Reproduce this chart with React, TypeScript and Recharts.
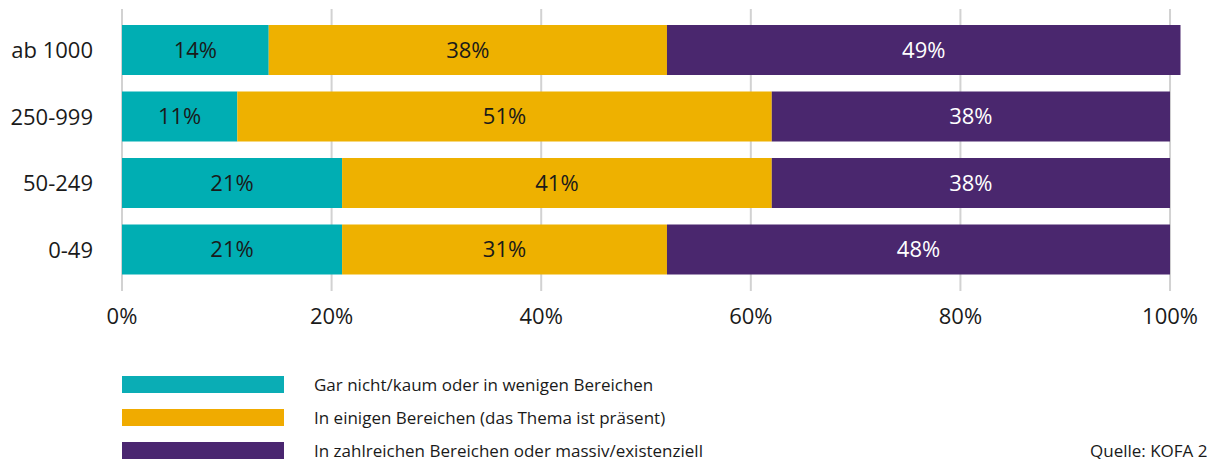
import React from 'react';
import {
  BarChart,
  Bar,
  XAxis,
  YAxis,
  CartesianGrid,
  LabelList,
} from 'recharts';

const categories = ['ab 1000', '250-999', '50-249', '0-49'];
const gering = [14, 11, 21, 21];
const einige = [38, 51, 41, 31];
const zahlreich = [49, 38, 38, 48];
const xTicks = [0, 20, 40, 60, 80, 100];

const seriesNames = [
  'Gar nicht/kaum oder in wenigen Bereichen',
  'In einigen Bereichen (das Thema ist präsent)',
  'In zahlreichen Bereichen oder massiv/existenziell',
];

const FONT = '"Open Sans", "Noto Sans", sans-serif';

const series = [
  { key: 'gering', name: seriesNames[0], color: '#00AEB3', legend: '#0AADB5', text: '#1a1a1a' },
  { key: 'einige', name: seriesNames[1], color: '#EEB100', legend: '#F0AB00', text: '#1a1a1a' },
  { key: 'zahlreich', name: seriesNames[2], color: '#4A276E', legend: '#4A2670', text: '#ffffff' },
];

const data = categories.map((c, i) => ({
  category: c,
  gering: gering[i],
  einige: einige[i],
  zahlreich: zahlreich[i],
}));

const App: React.FC = () => {
  return (
    <div style={{ position: 'absolute', left: 0, top: 0, width: 1207, height: 459, fontFamily: FONT, overflow: 'hidden' }}>
      <BarChart
        width={1207}
        height={459}
        data={data}
        layout="vertical"
        margin={{ top: 9, right: 26.5, left: 0, bottom: 138 }}
        barSize={50}
      >
        <CartesianGrid
          stroke="#d2d2d2"
          strokeWidth={2}
          horizontal={false}
          vertical={true}
          verticalValues={xTicks}
        />
        <XAxis
          type="number"
          domain={[0, 101]}
          ticks={xTicks}
          tickFormatter={(v: number) => `${v}%`}
          axisLine={false}
          tickLine={false}
          tickSize={0}
          tickMargin={17}
          height={30}
          tick={{ fontSize: 22, fill: '#1a1a1a', fontFamily: FONT }}
        />
        <YAxis
          type="category"
          dataKey="category"
          width={122}
          axisLine={false}
          tickLine={false}
          tickSize={0}
          tickMargin={29}
          padding={{ top: 8, bottom: 8 }}
          tick={{ fontSize: 22, fill: '#1a1a1a', fontFamily: FONT }}
        />
        {series.map((s) => (
          <Bar key={s.key} dataKey={s.key} name={s.name} stackId="a" fill={s.color} isAnimationActive={false}>
            <LabelList
              dataKey={s.key}
              position="center"
              formatter={(v: number) => `${v}%`}
              fill={s.text}
              fontSize={22}
              fontFamily={FONT}
            />
          </Bar>
        ))}
      </BarChart>
      <div style={{ position: 'absolute', left: 122, top: 376 }}>
        {series.map((s) => (
          <div key={s.key} style={{ display: 'flex', alignItems: 'center', height: 17, marginBottom: 16 }}>
            <div style={{ width: 162, height: 17, background: s.legend }} />
            <span style={{ marginLeft: 30, fontSize: 17, color: '#1a1a1a', whiteSpace: 'nowrap', lineHeight: '17px' }}>
              {s.name}
            </span>
          </div>
        ))}
      </div>
      <div style={{ position: 'absolute', left: 1090, top: 441, fontSize: 17, color: '#1a1a1a', whiteSpace: 'nowrap', lineHeight: '20px' }}>
        Quelle: KOFA 2023
      </div>
    </div>
  );
};

export default App;
